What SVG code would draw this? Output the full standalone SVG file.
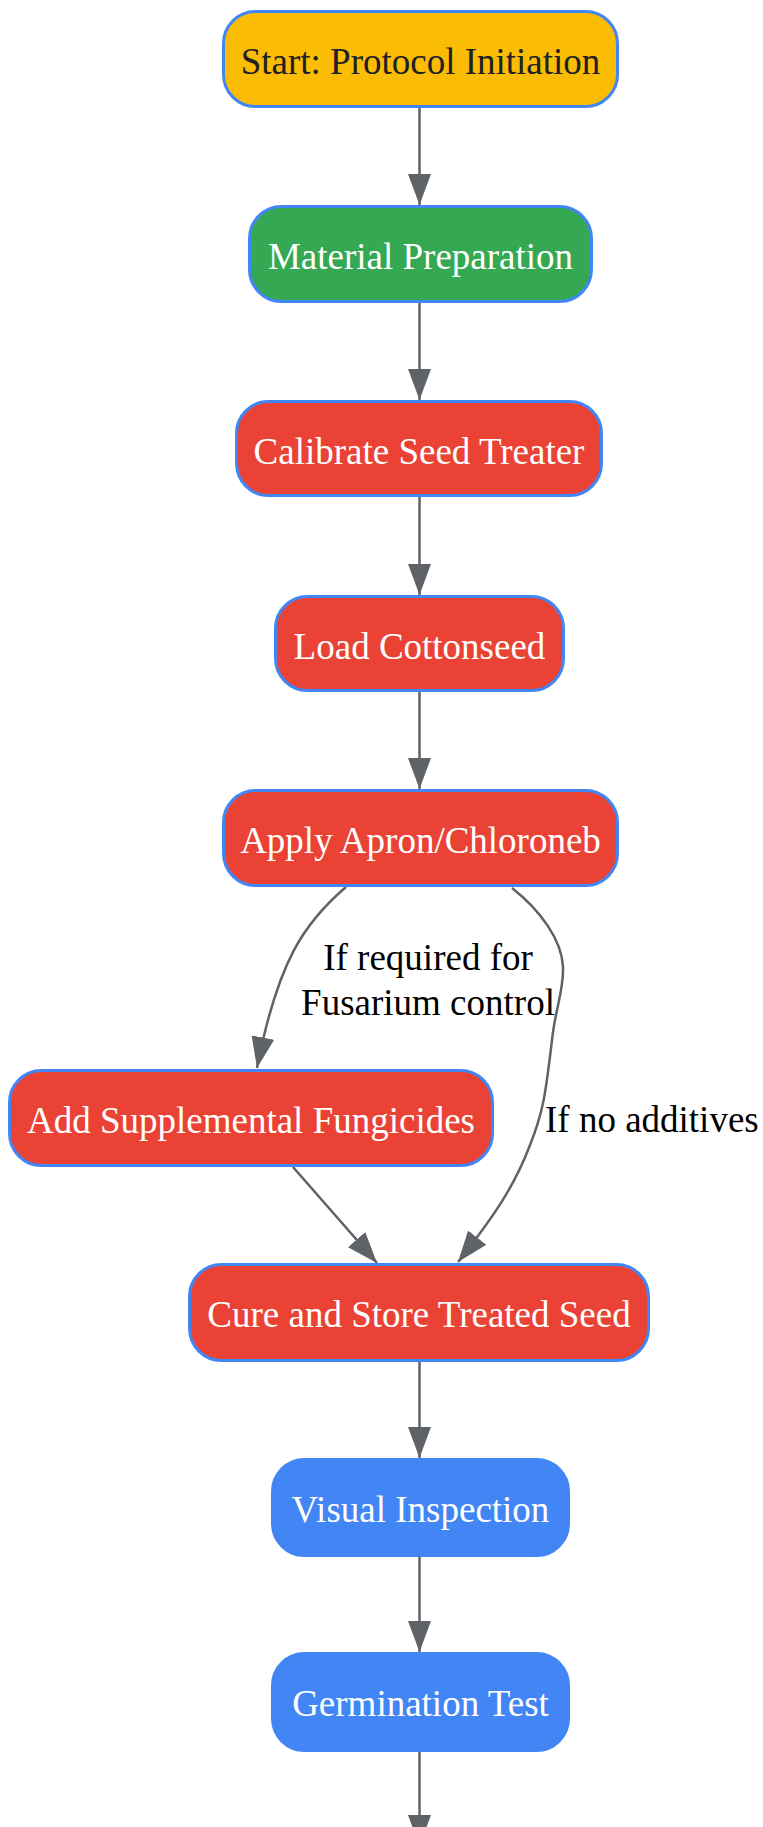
<svg xmlns="http://www.w3.org/2000/svg" width="763" height="1827" viewBox="0 0 763 1827">
<style>
.node rect{stroke:#4285F4;stroke-width:3}
.node text{font-family:"Liberation Serif","Times New Roman",serif;font-size:37px;text-anchor:middle;fill:#FFFFFF}
.start rect{fill:#FBBC05}
.start text{fill:#202124}
.prep rect{fill:#34A853}
.proc rect{fill:#EA4335}
.qc rect{fill:#4285F4}
.edge{fill:none;stroke:#5F6368;stroke-width:2.5;marker-end:url(#arr)}
.elabel{font-family:"Liberation Serif","Times New Roman",serif;font-size:37px;fill:#000000}
</style>
<defs>
<marker id="arr" markerUnits="userSpaceOnUse" markerWidth="31" markerHeight="23" refX="31" refY="11.5" orient="auto" viewBox="0 0 31 23">
<path d="M0,0 L31,11.5 L0,23 z" fill="#5F6368"/>
</marker>
</defs>
<rect width="763" height="1827" fill="#FFFFFF"/>
<g id="connectors">
<path class="edge" d="M419.5,108 V205"/>
<path class="edge" d="M419.5,303 V400"/>
<path class="edge" d="M419.5,497 V595"/>
<path class="edge" d="M419.5,692 V789"/>
<path class="edge" d="M346,887 C305,922 278,960 257,1068"/>
<path class="edge" d="M512,888 C540,910 562,940 563,967 C564,990 555,1010 552,1040 C546,1090 544,1110 530,1145 C515,1185 495,1215 458,1262"/>
<path class="edge" d="M293,1167 L377,1263"/>
<path class="edge" d="M419.5,1362 V1458"/>
<path class="edge" d="M419.5,1557 V1652"/>
<path class="edge" d="M419.5,1752 V1846"/>
<text class="elabel" x="428" y="970" text-anchor="middle">If required for</text>
<text class="elabel" x="428" y="1015" text-anchor="middle">Fusarium control</text>
<text class="elabel" x="545" y="1132">If no additives</text>
</g>
<g id="start" class="node start">
<rect x="223.5" y="11.5" width="394" height="95" rx="32"/>
<text x="420.5" y="74">Start: Protocol Initiation</text>
</g>
<g id="material" class="node prep">
<rect x="249.5" y="206.5" width="342" height="95" rx="32"/>
<text x="420.5" y="269">Material Preparation</text>
</g>
<g id="calibrate" class="node proc">
<rect x="236.5" y="401.5" width="365" height="94" rx="32"/>
<text x="419" y="464">Calibrate Seed Treater</text>
</g>
<g id="load" class="node proc">
<rect x="275.5" y="596.5" width="288" height="94" rx="32"/>
<text x="419.5" y="659">Load Cottonseed</text>
</g>
<g id="apply" class="node proc">
<rect x="223.5" y="790.5" width="394" height="95" rx="32"/>
<text x="420.5" y="853">Apply Apron/Chloroneb</text>
</g>
<g id="supplement" class="node proc">
<rect x="9.5" y="1070.5" width="483" height="95" rx="32"/>
<text x="251" y="1133">Add Supplemental Fungicides</text>
</g>
<g id="cure" class="node proc">
<rect x="189.5" y="1264.5" width="459" height="96" rx="32"/>
<text x="419" y="1327">Cure and Store Treated Seed</text>
</g>
<g id="visual" class="node qc">
<rect x="272.5" y="1459.5" width="296" height="96" rx="32"/>
<text x="420.5" y="1522">Visual Inspection</text>
</g>
<g id="germination" class="node qc">
<rect x="272.5" y="1653.5" width="296" height="97" rx="32"/>
<text x="420.5" y="1716">Germination Test</text>
</g>
</svg>
